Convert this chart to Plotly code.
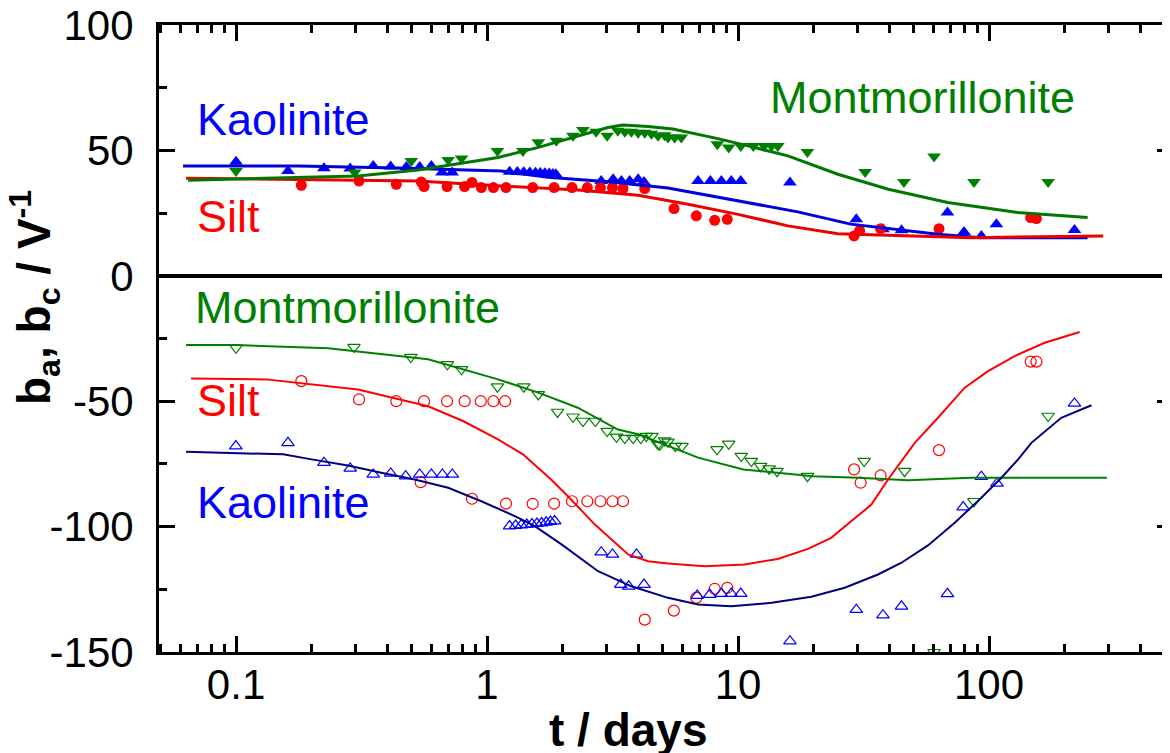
import plotly.graph_objects as go

# ---------------- data (t in days, b in 1/V) ----------------
# Upper panel (b_a), filled markers
kao_a_t = [0.1, 0.161, 0.224, 0.285, 0.352, 0.413, 0.477, 0.539, 0.600, 0.662, 0.726,
           1.23, 1.32, 1.40, 1.48, 1.56, 1.63, 1.70, 1.77, 1.83, 1.88,
           2.85, 3.18, 3.43, 3.70, 4.0, 4.22, 6.93, 7.76, 8.58, 9.40, 10.25, 16.1,
           29.6, 37.8, 44.8, 68.3, 79.5, 93.2, 107, 219]
kao_a_v = [45.5, 41.8, 42.9, 42.8, 43.8, 43.6, 43.4, 43.4, 43.8, 41.2, 41.2,
           41.5, 41.4, 41.3, 41.2, 41.1, 41.0, 40.9, 40.8, 40.6, 40.5,
           37.8, 38.5, 37.8, 37.8, 38.5, 37.4, 37.8, 37.8, 37.8, 37.8, 37.8, 37.2,
           22.5, 18.6, 18.2, 25.2, 17.5, 15.9, 20.6, 18.3]

silt_a_t = [0.182, 0.309, 0.435, 0.547, 0.561, 0.693, 0.814, 0.871, 0.949, 1.06, 1.19,
            1.52, 1.85, 2.18, 2.51, 2.83, 3.16, 3.48, 4.25, 5.56, 6.82, 8.07, 9.06,
            29.0, 30.5, 37.0, 63.2, 146.5, 154.5]
silt_a_v = [36.1, 37.8, 36.5, 37.4, 35.6, 35.6, 35.6, 37.2, 35.2, 35.2, 35.2,
            35.2, 35.2, 35.2, 35.2, 35.2, 35.2, 34.8, 34.8, 26.8, 23.9, 22.1, 22.5,
            15.9, 18.0, 18.8, 18.8, 23.2, 22.8]

mont_a_t = [0.1, 0.297, 0.499, 0.700, 0.791, 1.10, 1.39, 1.60, 1.89, 2.20, 2.41, 2.72,
            3.01, 3.32, 3.54, 3.76, 4.0, 4.25, 4.52, 4.80, 5.10, 5.26, 5.59, 5.94,
            8.27, 9.18, 10.25, 11.5, 12.7, 13.6, 14.4, 18.9, 32.1, 45.8, 60.4, 87.1, 172]
mont_a_v = [41.8, 41.2, 45.8, 46.2, 46.8, 49.8, 49.8, 53.2, 53.8, 55.8, 58.1, 57.4,
            55.8, 57.8, 57.4, 57.4, 57.0, 57.0, 56.6, 55.8, 56.0, 55.1, 55.1, 55.1,
            52.5, 51.2, 51.8, 51.8, 51.8, 51.8, 51.8, 49.4, 41.4, 37.4, 47.6, 37.4, 37.4]

# Upper panel model curves
kao_a_fit_t = [0.0615, 0.177, 0.442, 1.14, 1.75, 3.03, 5.26, 10.0, 17.3, 28.1, 62.6, 92.6, 247]
kao_a_fit_v = [43.8, 43.8, 43.0, 41.8, 39.3, 37.5, 35.0, 30.0, 25.5, 20.6, 16.6, 15.2, 15.2]

silt_a_fit_t = [0.0632, 0.177, 0.531, 1.14, 2.30, 4.0, 6.32, 10.0, 15.8, 25.0, 46.3, 84.8, 156, 285]
silt_a_fit_v = [38.9, 38.5, 37.8, 35.8, 34.2, 32.1, 28.5, 24.5, 19.9, 16.8, 15.9, 15.2, 15.6, 15.9]

mont_a_fit_t = [0.0644, 0.1, 0.177, 0.306, 0.531, 0.840, 1.106, 1.60, 2.20, 3.03, 3.48, 4.38, 5.50,
                8.31, 10.96, 15.8, 25.0, 39.7, 68.5, 130, 247]
mont_a_fit_v = [38.1, 38.5, 39.2, 39.8, 42.2, 45.2, 47.2, 51.2, 55.1, 59.1, 60.1, 59.5, 58.5,
                54.7, 51.8, 47.8, 40.5, 34.5, 29.2, 25.2, 23.2]

# Lower panel (b_c), open markers
mont_c_t = [0.1, 0.295, 0.497, 0.695, 0.791, 1.10, 1.40, 1.60, 1.91, 2.20, 2.41, 2.70,
            3.01, 3.28, 3.54, 3.82, 4.10, 4.31, 4.54, 4.80, 4.88, 5.10, 5.26, 5.62, 5.98,
            8.25, 9.18, 10.3, 11.3, 12.3, 13.3, 14.3, 18.9, 31.8, 46.1, 60.4, 87.1, 172]
mont_c_v = [-28.7, -28.4, -32.4, -35.3, -37.3, -44.2, -44.2, -47.3, -54.3, -56.2, -57.9, -57.9,
            -61.9, -64.2, -64.7, -64.7, -64.7, -63.9, -63.9, -67.2, -67.4, -65.7, -66.2, -67.9, -67.9,
            -69.2, -67.0, -71.9, -73.9, -75.9, -76.9, -77.9, -79.9, -73.9, -77.9, -150.1, -89.9, -55.9]

silt_c_t = [0.182, 0.309, 0.435, 0.544, 0.561, 0.693, 0.814, 0.871, 0.944, 1.06, 1.18,
            1.19, 1.52, 1.85, 2.18, 2.51, 2.83, 3.16, 3.48, 4.25, 5.55, 6.82, 8.07, 9.06,
            29.0, 30.8, 37.0, 63.2, 146.5, 154.5]
silt_c_v = [-42.0, -49.3, -50.0, -82.3, -50.0, -50.0, -50.0, -88.9, -50.0, -50.0, -50.0,
            -90.8, -90.9, -90.8, -89.9, -89.9, -89.9, -89.9, -89.9, -137.1, -133.5, -128.4, -124.8, -124.4,
            -77.2, -82.5, -79.6, -69.5, -34.2, -34.2]

kao_c_t = [0.0998, 0.161, 0.224, 0.285, 0.352, 0.413, 0.474, 0.539, 0.600, 0.664, 0.727,
           1.23, 1.30, 1.37, 1.44, 1.51, 1.58, 1.65, 1.72, 1.79, 1.86,
           2.85, 3.16, 3.94, 3.41, 3.67, 4.22, 6.88, 7.71, 8.58, 9.40, 10.25, 16.1,
           29.6, 37.8, 44.8, 68.3, 78.9, 93.2, 107.6, 219]
kao_c_v = [-67.9, -66.6, -74.5, -76.8, -79.2, -78.8, -79.9, -79.2, -79.2, -79.2, -79.2,
           -99.8, -99.6, -99.4, -99.2, -99.0, -98.8, -98.6, -98.3, -98.0, -97.8,
           -110.2, -111.1, -111.1, -123.1, -123.8, -123.1, -127.5, -127.1, -126.7, -126.7, -126.7, -145.7,
           -133.1, -135.3, -131.8, -126.8, -92.2, -80.1, -82.8, -50.9]

# Lower panel model curves
mont_c_fit_t = [0.0632, 0.1, 0.233, 0.582, 1.106, 1.60, 2.30, 3.32, 4.0, 5.26, 6.93, 10.5, 19.9,
                30.1, 47.6, 84.8, 295]
mont_c_fit_v = [-27.6, -27.6, -28.9, -33.3, -41.3, -46.6, -52.6, -61.3, -63.2, -67.9, -72.5, -77.2,
                -79.9, -80.5, -81.5, -80.5, -80.5]

silt_c_fit_t = [0.0662, 0.132, 0.306, 0.582, 0.802, 1.106, 1.39, 1.80, 2.10, 2.69, 3.65, 4.38, 5.26,
                7.37, 10.6, 14.4, 19.0, 23.5, 28.3, 34.0, 39.6, 50.6, 62.6, 80.0, 99.1, 126.5,
                166.6, 229.7]
silt_c_fit_v = [-40.9, -41.3, -45.3, -52.0, -57.9, -65.2, -71.2, -81.2, -87.9, -99.2, -111.1, -113.8,
                -114.7, -115.8, -115.1, -112.9, -108.9, -104.5, -97.8, -91.2, -81.2, -66.6, -56.6,
                -44.6, -38.0, -32.0, -26.7, -22.4]

kao_c_fit_t = [0.0632, 0.154, 0.200, 0.279, 0.379, 0.515, 0.700, 0.949, 1.29, 1.55, 1.98, 2.77,
               3.76, 5.26, 6.93, 9.40, 13.6, 19.6, 26.6, 36.1, 44.8, 57.1, 73.0, 93.2, 112,
               130.6, 147.5, 194, 256]
kao_c_fit_v = [-70.2, -71.2, -73.2, -75.6, -78.5, -81.2, -84.5, -89.9, -95.8, -99.8, -107.1, -117.8,
               -123.8, -128.4, -131.1, -131.8, -130.4, -128.0, -124.4, -119.1, -114.4, -107.5,
               -98.5, -88.5, -80.5, -73.2, -66.6, -56.6, -51.6]

x_tick_vals = [0.1, 1, 10, 100]
x_tick_text = ["0.1", "1", "10", "100"]
y_tick_vals = [-150, -100, -50, 0, 50, 100]
y_tick_text = ["-150", "-100", "-50", "0", "50", "100"]
y_minor_vals = [-125, -75, -25, 25, 75]

# ---------------- styling ----------------
BLUE = "#0000FF"
NAVY = "#000080"
RED = "#FF0000"
GREEN = "#008000"
FONT = "Arial, Liberation Sans, sans-serif"

fig = go.Figure()

def line(t, v, color, width):
    fig.add_trace(go.Scatter(x=t, y=v, mode="lines", line=dict(color=color, width=width),
                             hoverinfo="skip", showlegend=False))

def pts(t, v, symbol, color, size, lw=1):
    fig.add_trace(go.Scatter(x=t, y=v, mode="markers",
                             marker=dict(symbol=symbol, color=color, size=size,
                                         line=dict(color=color, width=lw)),
                             showlegend=False))

# upper panel
pts(kao_a_t, kao_a_v, "triangle-up", BLUE, 12, 0)
pts(silt_a_t, silt_a_v, "circle", RED, 11, 0)
pts(mont_a_t, mont_a_v, "triangle-down", GREEN, 12, 0)
line(kao_a_fit_t, kao_a_fit_v, "#0000DD", 3)
line(silt_a_fit_t, silt_a_fit_v, "#EE0000", 3)
line(mont_a_fit_t, mont_a_fit_v, "#007700", 3)

# lower panel
pts(mont_c_t, mont_c_v, "triangle-down-open", GREEN, 11, 1.2)
pts(silt_c_t, silt_c_v, "circle-open", RED, 11, 1.2)
pts(kao_c_t, kao_c_v, "triangle-up-open", BLUE, 11, 1.2)
line(mont_c_fit_t, mont_c_fit_v, GREEN, 2)
line(silt_c_fit_t, silt_c_fit_v, RED, 2)
line(kao_c_fit_t, kao_c_fit_v, NAVY, 2)

minor_x = [k * 10.0 ** e for e in range(-2, 3) for k in range(2, 10)]

# page has an 8px body margin: the plot area lands at x 159..1173, y 25..652
PL, PR, PT, PB = 159, 1173, 25, 652
PW, PH = PR - PL, PB - PT

fig.update_layout(
    width=1165, height=745,
    margin=dict(l=151, r=0, t=17, b=101, autoexpand=False),
    paper_bgcolor="white", plot_bgcolor="white",
    font=dict(family=FONT, size=42, color="black"),
    showlegend=False,
    xaxis=dict(type="log", range=[-1.307, 2.733], automargin=False,
               tickmode="array", tickvals=x_tick_vals, ticktext=x_tick_text,
               ticks="inside", ticklen=16, tickwidth=2.5, tickcolor="black",
               showline=True, linewidth=3, linecolor="black", mirror="ticks",
               showgrid=False, zeroline=False,
               minor=dict(tickmode="array", tickvals=minor_x, ticks="inside",
                          ticklen=8, tickwidth=2.5, tickcolor="black", showgrid=False),
               tickfont=dict(size=42), ticklabelstandoff=-6, ticklabeloverflow="allow"),
    yaxis=dict(range=[-150, 100], automargin=False,
               tickmode="array", tickvals=y_tick_vals, ticktext=y_tick_text,
               ticks="inside", ticklen=16, tickwidth=2.5, tickcolor="black",
               showline=True, linewidth=3, linecolor="black", mirror="ticks",
               showgrid=False, zeroline=True, zerolinecolor="black", zerolinewidth=3.5,
               minor=dict(tickmode="array", tickvals=y_minor_vals, ticks="inside",
                          ticklen=8, tickwidth=2.5, tickcolor="black", showgrid=False),
               tickfont=dict(size=42), ticklabelstandoff=14, ticklabeloverflow="allow"),
)

labels = [
    ("Kaolinite", 195, 120, BLUE),
    ("Silt", 195, 216, RED),
    ("Montmorillonite", 768, 98, GREEN),
    ("Montmorillonite", 193, 308, GREEN),
    ("Silt", 195, 400, RED),
    ("Kaolinite", 195, 502, BLUE),
]
for txt, px, py, col in labels:
    fig.add_annotation(text=txt, xref="paper", yref="paper",
                       x=(px - PL) / PW, y=(PB - py) / PH,
                       xanchor="left", yanchor="middle", showarrow=False,
                       font=dict(size=45, color=col, family=FONT))

fig.add_annotation(text="<b>t / days</b>", xref="paper", yref="paper",
                   x=(628 - PL) / PW, y=(PB - 730) / PH,
                   xanchor="center", yanchor="middle", showarrow=False,
                   font=dict(size=46, color="black", family=FONT))
fig.add_annotation(text="<b>b<sub>a</sub>, b<sub>c</sub> / V<sup>-1</sup></b>",
                   xref="paper", yref="paper",
                   x=(34 - PL) / PW, y=(PB - 298) / PH, textangle=-90,
                   xanchor="center", yanchor="middle", showarrow=False,
                   font=dict(size=46, color="black", family=FONT))

fig.write_html("out.html")
